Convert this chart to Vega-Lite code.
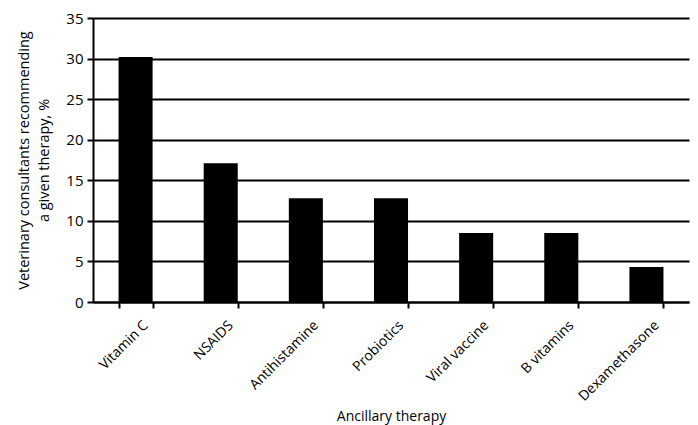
{
  "$schema": "https://vega.github.io/schema/vega-lite/v6.json",
  "width": 596,
  "height": 284,
  "autosize": "none",
  "padding": {"left": 93, "top": 18, "right": 9, "bottom": 123},
  "background": "white",
  "config": {
    "view": {"stroke": null},
    "font": "Open Sans",
    "axis": {"labelColor": "black", "titleColor": "black", "titleFontWeight": "normal", "domainColor": "black", "tickColor": "black", "labelFont": "Open Sans", "titleFont": "Open Sans"}
  },
  "data": {
    "values": [
      {"therapy": "Vitamin C", "pct": 30.2},
      {"therapy": "NSAIDS", "pct": 17.1},
      {"therapy": "Antihistamine", "pct": 12.8},
      {"therapy": "Probiotics", "pct": 12.8},
      {"therapy": "Viral vaccine", "pct": 8.5},
      {"therapy": "B vitamins", "pct": 8.5},
      {"therapy": "Dexamethasone", "pct": 4.3}
    ]
  },
  "mark": {"type": "bar", "color": "black"},
  "encoding": {
    "x": {
      "field": "therapy",
      "type": "nominal",
      "sort": null,
      "scale": {"paddingInner": 0.6, "paddingOuter": 0.3},
      "axis": {
        "title": "Ancillary therapy",
        "titleFontSize": 14,
        "titleY": 118,
        "titleBaseline": "alphabetic",
        "labelAngle": -45,
        "labelAlign": "right",
        "labelBaseline": "top",
        "labelFontSize": 14,
        "labelPadding": 10,
        "labelOffset": 5,
        "ticks": true,
        "tickBand": "extent",
        "tickSize": 6,
        "tickWidth": 2,
        "domainWidth": 2
      }
    },
    "y": {
      "field": "pct",
      "type": "quantitative",
      "scale": {"domain": [0, 35]},
      "axis": {
        "title": ["Veterinary consultants recommending", "a given therapy, %"],
        "titleFontSize": 14.5,
        "titleLineHeight": 20,
        "titleBaseline": "top",
        "titleX": -76,
        "values": [0, 5, 10, 15, 20, 25, 30, 35],
        "labelFontSize": 15,
        "labelPadding": 4,
        "grid": true,
        "gridColor": "black",
        "gridWidth": 2,
        "gridOpacity": 1,
        "tickSize": 6,
        "tickWidth": 2,
        "domainWidth": 2
      }
    }
  }
}
